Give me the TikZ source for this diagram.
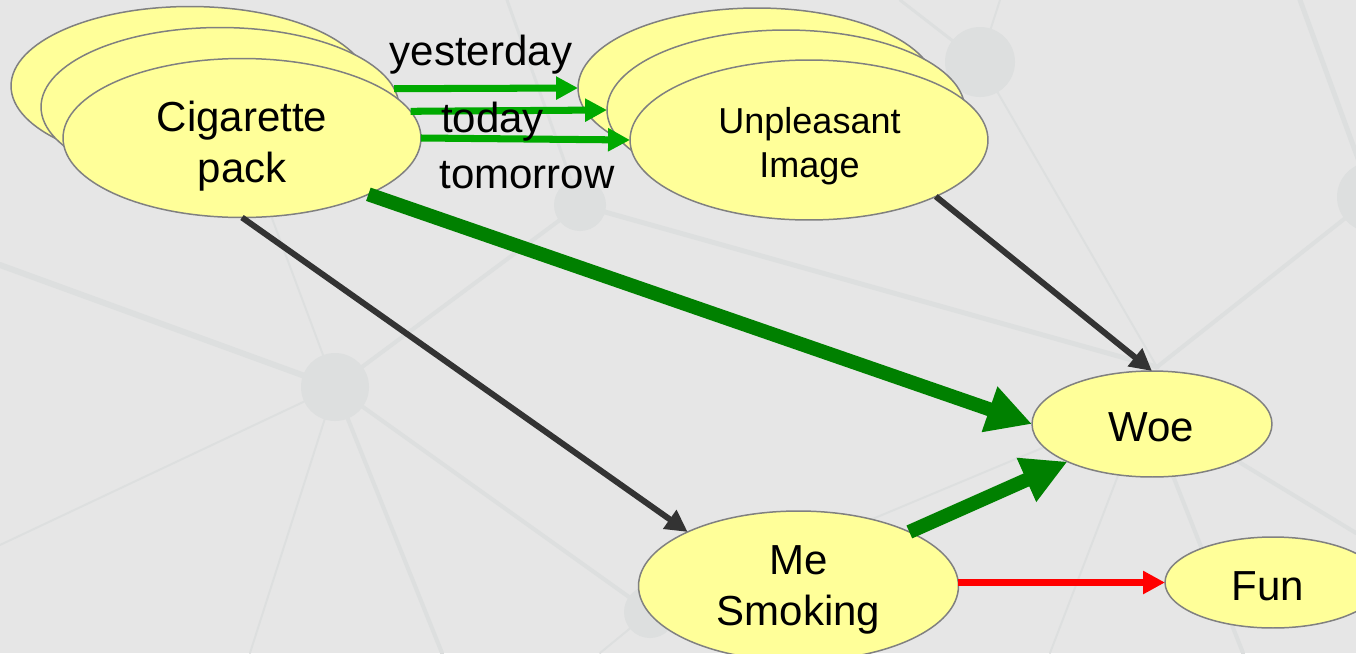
\documentclass[tikz,border=0pt]{standalone}
\usepackage{fontspec}
\setmainfont{Liberation Sans}
\usetikzlibrary{shapes.geometric,arrows.meta}
\definecolor{bgc}{RGB}{230,230,230}
\definecolor{netc}{RGB}{221,223,223}
\definecolor{cardfill}{RGB}{255,255,153}
\definecolor{cardline}{RGB}{128,128,128}
\definecolor{lgreen}{RGB}{0,170,0}
\definecolor{dgreen}{RGB}{0,128,0}
\definecolor{dgray}{RGB}{51,51,51}
\definecolor{redc}{RGB}{255,0,0}
\begin{document}
\begin{tikzpicture}[x=0.02cm,y=-0.02cm,
  card/.style={ellipse, draw=cardline, fill=cardfill, line width=0.85pt, inner sep=0pt, outer sep=0pt},
  bigcard/.style={card, minimum width=7.16cm, minimum height=3.18cm},
  unpcard/.style={card, minimum width=7.16cm, minimum height=3.2cm},
  bigtxt/.style={inner sep=0pt, align=center, font=\fontsize{23.9pt}{29pt}\selectfont},
  unptxt/.style={inner sep=0pt, align=center, font=\fontsize{20.5pt}{25pt}\selectfont},
  lbl/.style={inner sep=0pt, anchor=base, font=\fontsize{23.9pt}{29pt}\selectfont},
  thinlink/.style={draw=lgreen, line width=4pt, -{Triangle[length=12.5pt,width=12.5pt]}},
  thicklink/.style={draw=dgreen, line width=8pt, -{Triangle[length=25.6pt,width=25.6pt]}},
  darklink/.style={draw=dgray, line width=3.4pt, -{Triangle[length=12.5pt,width=12.5pt]}},
  redlink/.style={draw=redc, line width=4pt, -{Triangle[length=12.5pt,width=12.5pt]}},
  net/.style={draw=netc, line cap=round},
  hub/.style={fill=netc}
]
\path[use as bounding box] (0,0) rectangle (1356,653);
\clip (0,0) rectangle (1356,653);
\fill[bgc] (0,0) rectangle (1356,653);

% faint background network
\coordinate (nA) at (980,62);
\coordinate (nB) at (335,387);
\coordinate (nC) at (580,205);
\coordinate (nD) at (1372,197);
\coordinate (nE) at (650,612);
\coordinate (nF) at (1157,367);
\coordinate (nG) at (1145,405);
\draw[net, line width=3.4pt] (nB) -- (0,265);
\draw[net, line width=2.3pt] (nB) -- (nC);
\draw[net, line width=1.1pt] (nB) -- (0,545);
\draw[net, line width=1.1pt] (nB) -- (250,653);
\draw[net, line width=2.3pt] (nB) -- (442,653);
\draw[net, line width=2.3pt] (nB) -- (nE);
\draw[net, line width=1.1pt] (nB) -- (242,138);
\draw[net, line width=2.8pt] (nC) -- (nF);
\draw[net, line width=1.7pt] (nC) -- (507,0);
\draw[net, line width=1.1pt] (nA) -- (nF);
\draw[net, line width=1.7pt] (nA) -- (900,0);
\draw[net, line width=1.1pt] (nA) -- (1000,0);
\draw[net, line width=2.8pt] (nD) -- (1300,0);
\draw[net, line width=2.3pt] (nD) -- (nF);
\draw[net, line width=2.3pt] (nG) -- (1356,533);
\draw[net, line width=2.3pt] (nG) -- (1243,653);
\draw[net, line width=1.1pt] (nG) -- (1050,653);
\draw[net, line width=1.1pt] (nG) -- (nE);
\draw[net, line width=1.1pt] (nE) -- (600,653);
\fill[hub] (nA) circle (35);
\fill[hub] (nB) circle (34);
\fill[hub] (nC) circle (26);
\fill[hub] (nD) circle (35);
\fill[hub] (nE) circle (26);

% Cigarette pack stack
\node[bigcard] (cigB) at (190,86) {};
\node[bigtxt] (cigBt) at (190,94.5) {Cigarette\\pack};
\node[bigcard] (cigM) at (220,107) {};
\node[bigtxt] (cigMt) at (220,115.5) {Cigarette\\pack};
\node[bigcard] (cigF) at (242,138) {};
\node[bigtxt] (cigFt) at (242,146.5) {Cigarette\\pack};

% Unpleasant Image stack
\node[unpcard] (unpB) at (757,88) {};
\node[unptxt] (unpBt) at (757,94) {Unpleasant\\Image};
\node[unpcard] (unpM) at (786,110) {};
\node[unptxt] (unpMt) at (786,116) {Unpleasant\\Image};
\node[unpcard] (unpF) at (809,140) {};
\node[unptxt] (unpFt) at (809.5,146) {Unpleasant\\Image};

% other nodes
\node[card, minimum width=4.8cm, minimum height=2.12cm] (woe) at (1152,424) {};
\node[lbl] (woet) at (1151.5,441) {Woe};
\node[card, minimum width=6.4cm, minimum height=3.0cm] (me) at (798.5,586) {};
\node[bigtxt] (met) at (798.5,590) {Me\\Smoking};
\node[card, minimum width=4.32cm, minimum height=1.82cm] (fun) at (1273,582.5) {};
\node[lbl] (funt) at (1268,600) {Fun};

% connectors
\draw[thinlink] (cigM.6.6) -- (unpB.west);
\draw[thinlink] (cigF.9.9) -- (unpM.west);
\draw[thinlink] (cigF.east) -- (unpF.west);
\draw[thicklink] (cigF.-24) -- (woe.west);
\draw[darklink] (cigF.south) -- (me.154);
\draw[darklink] (unpF.-24) -- (woe.north);
\draw[thicklink] (me.26) -- (woe.204);
\draw[redlink] (me.east |- fun.west) -- (fun.west);

% time labels
\node[lbl] (yest) at (481,65) {yesterday};
\node[lbl] (tod) at (492.5,132) {today};
\node[lbl] (tom) at (527,188) {tomorrow};
\end{tikzpicture}
\end{document}
